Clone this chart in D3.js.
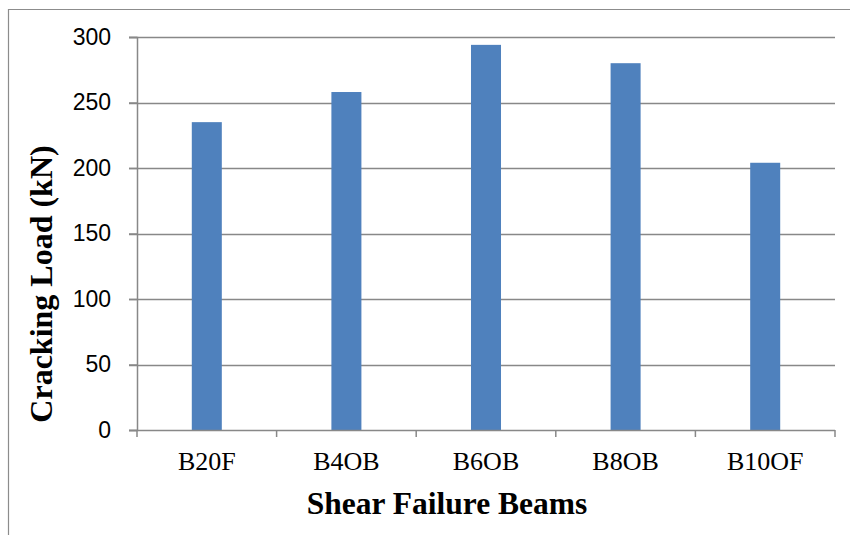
<!DOCTYPE html>
<html>
<head>
<meta charset="utf-8">
<script src="https://cdn.jsdelivr.net/npm/d3@7"></script>
<style>
  html, body { margin: 0; padding: 0; background: #fff; }
  svg { display: block; }
</style>
</head>
<body>
<svg id="chart" width="850" height="535"></svg>
<script>
// Cracking load per shear-failure beam
const categories = ["B20F", "B4OB", "B6OB", "B8OB", "B10OF"];
const crackingLoad = [235, 258, 294, 280, 204];
const yTicks = [0, 50, 100, 150, 200, 250, 300];

const svg = d3.select("#chart");
const W = 850, H = 535;
const plot = { left: 137, right: 835, top: 37, bottom: 430 };
const gridColor = "#888888";

// Outer frame (only left and top edges fall inside the view)
svg.append("path")
  .attr("d", `M8.5,${H} V9.5 H${W}`)
  .attr("fill", "none")
  .attr("stroke", "#8c8c8c")
  .attr("stroke-width", 1.2);

const x = d3.scaleBand()
  .domain(categories)
  .range([plot.left, plot.right])
  .paddingInner(0.785)
  .paddingOuter(0.3925);

const xGroups = d3.scaleBand().domain(categories).range([plot.left, plot.right]);

const y = d3.scaleLinear().domain([0, 300]).range([plot.bottom, plot.top]);

// Horizontal gridlines with short outside ticks
svg.append("g")
  .selectAll("line")
  .data(yTicks.filter(d => d > 0))
  .join("line")
  .attr("x1", plot.left - 8)
  .attr("x2", plot.right)
  .attr("y1", d => Math.round(y(d)) + 0.5)
  .attr("y2", d => Math.round(y(d)) + 0.5)
  .attr("stroke", gridColor)
  .attr("stroke-width", 1.5);

// Bars
svg.append("g")
  .selectAll("rect")
  .data(categories)
  .join("rect")
  .attr("x", d => x(d))
  .attr("width", x.bandwidth())
  .attr("y", (d, i) => y(crackingLoad[i]))
  .attr("height", (d, i) => y(0) - y(crackingLoad[i]))
  .attr("fill", "#4F81BD");

// Y axis
const yAxis = svg.append("g")
  .attr("transform", `translate(${plot.left},0)`)
  .call(d3.axisLeft(y).tickValues(yTicks).tickSize(8).tickPadding(18));
yAxis.select(".domain").attr("stroke", gridColor).attr("stroke-width", 1.5);
yAxis.selectAll(".tick line").attr("stroke", gridColor).attr("stroke-width", 1.5);
yAxis.selectAll(".tick text")
  .attr("font-family", "'Liberation Sans', Arial, sans-serif")
  .attr("font-size", 23)
  .attr("fill", "#000");

// X axis with boundary ticks between categories
const xAxisG = svg.append("g").attr("transform", `translate(0,${plot.bottom})`);
xAxisG.append("line")
  .attr("x1", plot.left - 8).attr("x2", plot.right)
  .attr("y1", 0.5).attr("y2", 0.5)
  .attr("stroke", gridColor).attr("stroke-width", 1.5);
const boundaries = categories.map(c => xGroups(c)).concat([plot.right]);
xAxisG.selectAll("line.bt")
  .data(boundaries)
  .join("line")
  .attr("class", "bt")
  .attr("x1", d => d).attr("x2", d => d)
  .attr("y1", 0).attr("y2", 7)
  .attr("stroke", gridColor).attr("stroke-width", 1.5);
xAxisG.selectAll("text")
  .data(categories)
  .join("text")
  .attr("x", d => xGroups(d) + xGroups.bandwidth() / 2)
  .attr("y", 40)
  .attr("text-anchor", "middle")
  .attr("font-family", "'Liberation Serif', 'Times New Roman', serif")
  .attr("font-size", 26)
  .attr("fill", "#000")
  .text(d => d);

// Axis titles
svg.append("text")
  .attr("x", 447)
  .attr("y", 514)
  .attr("text-anchor", "middle")
  .attr("font-family", "'Liberation Serif', 'Times New Roman', serif")
  .attr("font-weight", "bold")
  .attr("font-size", 31.5)
  .attr("fill", "#000")
  .text("Shear Failure Beams");

svg.append("text")
  .attr("transform", "translate(52,284) rotate(-90)")
  .attr("text-anchor", "middle")
  .attr("font-family", "'Liberation Serif', 'Times New Roman', serif")
  .attr("font-weight", "bold")
  .attr("font-size", 32)
  .attr("fill", "#000")
  .text("Cracking Load (kN)");
</script>
</body>
</html>
